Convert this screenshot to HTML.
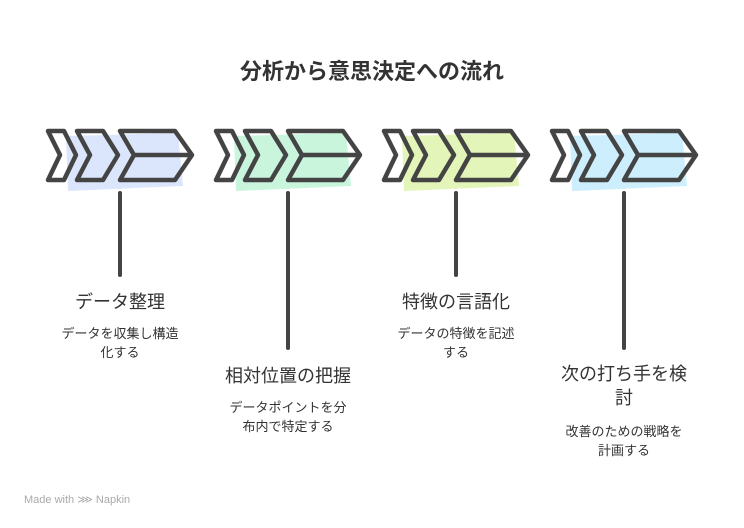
<!DOCTYPE html>
<html><head><meta charset="utf-8"><style>
body{margin:0;width:744px;height:528px;background:#fff;overflow:hidden;font-family:"Liberation Sans","Noto Sans CJK JP",sans-serif;}
.t{position:absolute;text-align:center;color:#333;}
</style></head><body>
<svg width="744" height="528" style="position:absolute;left:0;top:0">
<defs>
<g id="ch">
<polygon points="0,0 16,0 28,24 16,49 0,49 12,24" fill="none" stroke="#444" stroke-width="4.5" stroke-linejoin="round"/>
<polygon points="29,0 55,0 70,24 55,49 29,49 42,24" fill="none" stroke="#444" stroke-width="4.5" stroke-linejoin="round"/>
<polygon points="72,0 127,0 144,24 127,49 72,49 86,24" fill="none" stroke="#444" stroke-width="4.5" stroke-linejoin="round"/>
<line x1="86" y1="24" x2="144" y2="24" stroke="#444" stroke-width="4.5"/>
</g>
</defs>
<g transform="translate(48,131)"><polygon points="18,5 130,2 135,55 20,60" fill="#dbe6fd"/><use href="#ch"/></g>
<g transform="translate(216,131)"><polygon points="18,5 130,2 135,55 20,60" fill="#c8f5dc"/><use href="#ch"/></g>
<g transform="translate(384,131)"><polygon points="18,5 130,2 135,55 20,60" fill="#e3f5b8"/><use href="#ch"/></g>
<g transform="translate(552,131)"><polygon points="18,5 130,2 135,55 20,60" fill="#cdeefc"/><use href="#ch"/></g>
<g stroke="#444" stroke-width="4" stroke-linecap="round">
<line x1="120" y1="193" x2="120" y2="275"/>
<line x1="288" y1="193" x2="288" y2="348"/>
<line x1="456" y1="193" x2="456" y2="275"/>
<line x1="624" y1="193" x2="624" y2="348"/>
</g>
</svg>
<div class="t" style="left:0;width:744px;top:54px;font-size:22px;font-weight:bold;">分析から意思決定への流れ</div>
<div class="t" style="left:40px;width:160px;top:288px;font-size:18px;">データ整理</div>
<div class="t" style="left:45px;width:150px;top:324px;font-size:13px;line-height:19px;">データを収集し構造<br>化する</div>
<div class="t" style="left:208px;width:160px;top:362px;font-size:18px;">相対位置の把握</div>
<div class="t" style="left:213px;width:150px;top:398px;font-size:13px;line-height:19px;">データポイントを分<br>布内で特定する</div>
<div class="t" style="left:376px;width:160px;top:288px;font-size:18px;">特徴の言語化</div>
<div class="t" style="left:381px;width:150px;top:324px;font-size:13px;line-height:19px;">データの特徴を記述<br>する</div>
<div class="t" style="left:544px;width:160px;top:362px;font-size:18px;line-height:24px;">次の打ち手を検<br>討</div>
<div class="t" style="left:549px;width:150px;top:422px;font-size:13px;line-height:19px;">改善のための戦略を<br>計画する</div>
<div style="position:absolute;left:24px;top:493px;font-size:11px;color:#aaa;">Made with ⋙ Napkin</div>
</body></html>
